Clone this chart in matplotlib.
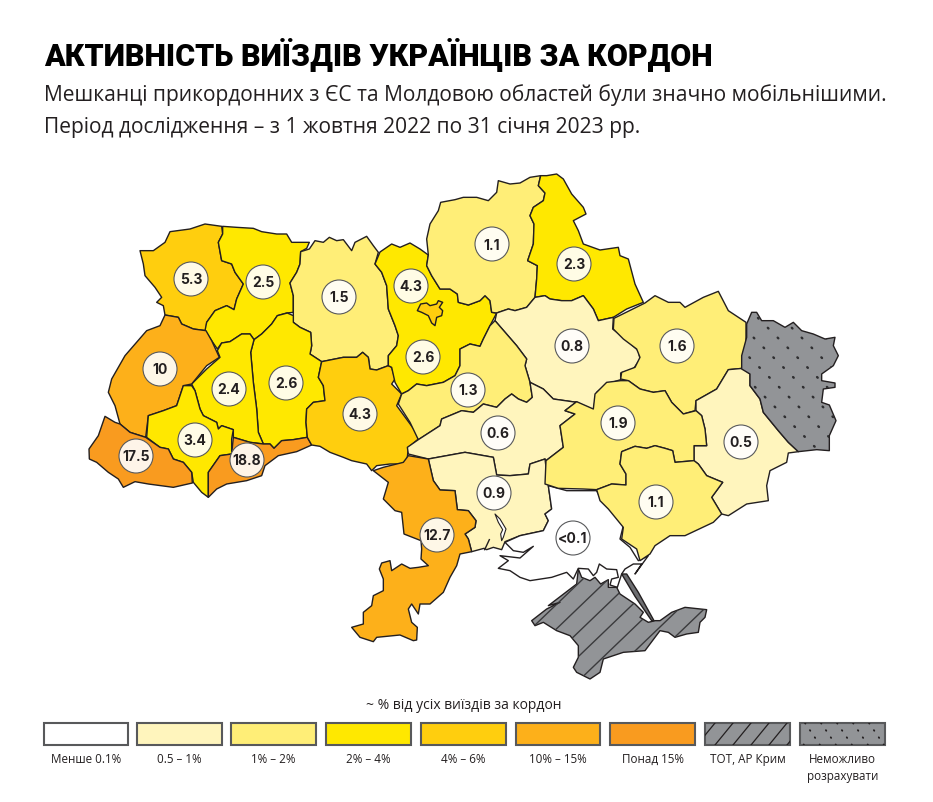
#!/usr/bin/env python3
"""Активність виїздів українців за кордон: choropleth of oblasts, traced outlines."""

import numpy as np
import matplotlib
matplotlib.use('Agg')
import matplotlib.pyplot as plt
from matplotlib.patches import Polygon, Circle, Rectangle


def at(x0, y0, pts):
    return [(x0 + x / 3, y0 + y / 3) for x, y in pts]


# ── Data ──────────────────────────────────────────────────────────
TITLE = 'АКТИВНІСТЬ ВИЇЗДІВ УКРАЇНЦІВ ЗА КОРДОН'
SUBTITLE = ['Мешканці прикордонних з ЄС та Молдовою областей були значно мобільнішими.',
            'Період дослідження – з 1 жовтня 2022 по 31 січня 2023 рр.']
LEGEND_TITLE = '~ % від усіх виїздів за кордон'
LEGEND_LABELS = ['Менше 0.1%', '0.5 – 1%', '1% – 2%', '2% – 4%', '4% – 6%',
                 '10% – 15%', 'Понад 15%', 'ТОТ, АР Крим', 'Неможливо\nрозрахувати']
CLASS_COLORS = ['#FFFFFF', '#FFF5BD', '#FFEE77', '#FFE800', '#FFCE0E',
                '#FDB01A', '#F99B1F', '#929497', '#929497']

VOLYN = at(80, 210, [(270,68),(330,60),(375,45),(425,52),(428,75),(415,100),(425,155),(455,165),(465,190),(490,225),(470,270),(462,302),(440,290),(405,305),(380,340),(378,365),(340,360),(305,345),(295,325),(255,318),(250,290),(230,280),(245,265),(225,235),(195,200),(190,165),(180,125),(220,125),(255,100)])
RIVNE = at(80, 210, [(428,52),(470,55),(520,58),(545,68),(590,75),(620,75),(635,100),(688,100),(680,118),(662,128),(660,165),(650,190),(630,222),(640,260),(640,310),(620,312),(592,320),(575,345),(545,375),(522,392),(510,375),(485,375),(450,398),(425,402),(412,420),(395,395),(375,365),(380,340),(405,305),(440,290),(462,302),(470,270),(490,225),(465,190),(455,165),(425,155),(415,100),(428,75)])
ZHYTOMYR = at(80, 210, [(662,128),(688,120),(705,95),(730,100),(748,85),(770,95),(790,92),(815,125),(825,100),(860,82),(880,110),(895,130),(885,165),(905,190),(920,230),(925,300),(945,350),(955,380),(950,410),(925,440),(925,470),(890,483),(870,480),(865,445),(848,430),(830,445),(790,445),(725,458),(690,435),(695,410),(692,370),(660,355),(640,340),(640,260),(630,222),(650,190),(660,165)])
KHMELNYTSKYI = at(80, 210, [(622,312),(640,320),(640,340),(660,355),(692,370),(695,410),(690,435),(725,458),(715,505),(730,530),(735,575),(700,580),(680,600),(678,640),(682,685),(640,692),(605,695),(582,718),(570,705),(550,705),(535,670),(530,600),(520,520),(512,430),(522,392),(545,375),(575,345),(592,320)])
TERNOPIL = at(80, 210, [(522,392),(512,430),(520,520),(530,600),(535,670),(550,705),(510,700),(460,685),(460,662),(425,650),(415,660),(410,640),(370,620),(360,600),(345,545),(335,525),(380,480),(420,445),(412,425),(425,402),(450,398),(485,375),(510,375)])
LVIV = at(80, 210, [(255,318),(295,325),(305,345),(340,360),(378,365),(395,395),(418,445),(380,470),(335,525),(310,530),(290,590),(250,605),(205,620),(197,685),(150,670),(120,645),(105,590),(85,550),(95,510),(135,440),(200,365),(240,350)])
FRANKIVSK = at(80, 210, [(310,530),(335,530),(345,545),(360,600),(370,620),(410,640),(415,660),(425,650),(460,662),(455,690),(455,735),(420,740),(385,790),(385,865),(365,850),(340,820),(335,790),(310,760),(280,750),(265,720),(240,715),(200,685),(205,620),(250,605),(290,590),(300,560)])
ZAKARPATTIA = at(80, 210, [(75,622),(105,640),(120,645),(150,670),(197,685),(240,715),(265,720),(280,750),(310,760),(335,790),(337,822),(280,835),(205,825),(165,818),(130,835),(115,810),(85,790),(50,760),(28,750),(27,720),(55,680)])
CHERNIVTSI = at(80, 210, [(460,685),(510,700),(550,705),(570,705),(582,718),(605,695),(640,692),(682,685),(695,708),(650,728),(595,740),(555,770),(545,800),(500,815),(440,825),(410,840),(385,865),(385,790),(420,740),(455,735)])
VINNYTSIA = at(80, 210, [(725,458),(790,445),(830,445),(848,430),(865,445),(870,480),(890,483),(925,470),(935,475),(945,510),(935,525),(965,555),(950,590),(1005,665),(1015,690),(985,715),(980,765),(930,765),(890,770),(875,785),(860,765),(815,755),(790,745),(750,730),(720,712),(695,708),(682,685),(678,640),(680,600),(700,580),(735,575),(730,530),(715,505)])
KYIV_OBL = at(380, 170, [(0,249),(35,225),(60,235),(90,222),(120,240),(145,258),(140,290),(155,320),(180,360),(210,360),(232,375),(235,400),(265,408),(300,395),(315,380),(330,395),(335,430),(350,432),(330,470),(310,510),(300,532),(270,525),(240,540),(240,590),(225,620),(190,640),(140,650),(110,645),(85,665),(65,675),(45,640),(35,595),(25,590),(25,560),(50,530),(55,500),(45,470),(25,420),(20,350),(5,310),(-15,285)])
CHERNIHIV = at(380, 170, [(182,100),(225,92),(250,85),(290,85),(325,95),(350,70),(355,35),(390,45),(420,42),(450,25),(482,20),(475,50),(495,72),(490,95),(460,115),(450,140),(462,165),(460,225),(443,275),(472,290),(470,330),(465,385),(440,415),(405,425),(385,420),(350,432),(335,430),(330,395),(315,380),(300,395),(265,408),(235,400),(232,375),(210,360),(180,360),(155,320),(140,290),(145,258),(140,210),(150,165),(175,125)])
SUMY = at(380, 170, [(482,20),(500,20),(530,15),(550,30),(575,75),(610,115),(618,135),(580,155),(595,185),(610,225),(660,243),(715,235),(720,260),(745,270),(765,345),(790,400),(740,420),(700,445),(655,455),(640,420),(610,380),(575,395),(545,395),(510,390),(495,380),(465,385),(470,330),(472,290),(443,275),(460,225),(462,165),(450,140),(460,115),(490,95),(495,72),(475,50)])
POLTAVA = at(380, 170, [(350,432),(385,420),(405,425),(440,415),(465,385),(495,380),(510,390),(545,395),(575,395),(610,380),(640,420),(655,455),(700,445),(698,480),(730,505),(775,545),(780,570),(760,600),(722,612),(722,632),(680,645),(650,670),(640,722),(590,700),(520,690),(490,660),(450,640),(435,590),(440,570),(410,530),(345,455)])
CHERKASY = at(380, 170, [(345,455),(410,530),(440,570),(435,590),(450,640),(457,685),(440,700),(415,690),(395,675),(375,690),(350,715),(310,705),(280,730),(245,725),(185,750),(180,770),(115,812),(90,760),(55,705),(65,675),(85,665),(110,645),(140,650),(190,640),(225,620),(240,590),(240,540),(270,525),(300,532),(310,510),(330,470)])
KIROVOHRAD = (at(380, 170, [(450,640),(490,660),(520,690),(590,700)])
              + at(540, 280, [(110,368),(75,395),(105,405),(60,440),(70,505),(18,545)])
              + at(340, 440, [(615,60),(570,75),(565,105),(510,110),(470,108),(460,55),(375,40),(265,60),(205,45),(202,25)])
              + at(380, 170, [(115,812),(180,770),(185,750),(245,725),(280,730),(310,705),(350,715),(375,690),(395,675),(415,690),(440,700),(457,685)]))
MYKOLAIV = at(340, 440, [(265,60),(375,40),(460,55),(470,108),(510,110),(565,105),(570,75),(615,60),(625,140),(635,210),(615,225),(625,245),(610,275),(540,290),(495,308),(485,332),(460,325),(440,332),(432,328),(395,338),(385,300),(375,285),(405,265),(408,245),(385,215),(352,212),(345,155),(300,153),(280,125)])
ODESA = at(340, 440, [(100,95),(130,85),(190,70),(205,50),(265,60),(280,125),(300,153),(345,155),(352,212),(385,215),(408,245),(405,265),(375,285),(385,300),(395,338),(360,345),(350,380),(330,415),(310,460),(270,495),(240,495),(235,525),(215,495),(205,510),(215,550),(232,565),(230,603),(220,605),(180,588),(110,595),(100,608),(60,595),(35,565),(70,555),(70,520),(95,500),(100,470),(130,455),(130,420),(118,390),(125,372),(150,365),(155,395),(185,375),(210,388),(235,385),(265,380),(243,360),(245,330),(243,305),(192,285),(185,220),(165,215),(130,180),(145,130)])
KHERSON = (at(340, 440, [(625,140),(680,155),(770,155),(785,185),(815,215),(850,260),(840,300),(870,325),(895,365),(925,350)])
           + at(480, 510, [(465,195),(485,165),(460,165),(435,180),(425,195),(420,210),(412,235),(390,228),(395,210),(415,205),(410,182),(380,180),(358,165),(350,190),(340,200),(325,180),(295,178),(280,210),(260,190),(215,205),(150,215),(120,205),(90,185),(55,178),(85,155),(60,140),(120,147),(160,112),(130,130),(100,125),(75,100)])
           + at(340, 440, [(540,290),(610,275),(625,245),(615,225),(635,210)]))
CRIMEA = (at(340, 440, [(575,545),(620,510),(660,490)])
          + at(480, 510, [(205,290),(290,225),(295,180),(305,205),(330,215),(345,205),(362,225),(385,212),(385,235),(410,235),(420,255),(465,285),(490,310),(480,325),(505,340),(525,335)])
          + at(340, 440, [(960,545),(995,520),(1035,505),(1100,512),(1095,535),(1080,550),(1075,580),(1040,585),(1005,595),(985,580),(960,575),(915,635),(850,640),(790,660),(780,700),(750,720),(710,700),(700,685),(715,655),(715,620),(690,590),(650,575),(610,550),(585,560)]))
ARABAT = at(480, 510, [(425,195),(440,195),(475,250),(522,335),(515,335),(465,262)])
LIMAN = at(480, 510, [(45,15),(60,30),(78,60),(70,85),(65,95),(62,75),(68,62),(55,40)])
BAY_INLET = at(480, 510, [(28,92),(14,122)])
KHARKIV = at(540, 280, [(222,118),(315,72),(345,50),(385,70),(420,70),(435,85),(490,55),(535,37),(565,95),(618,130),(618,190),(605,240),(608,268),(565,272),(530,330),(468,365),(465,395),(430,405),(395,370),(375,335),(340,340),(300,330),(265,305),(242,300),(245,280),(285,265),(300,235),(290,210),(250,180),(220,150)])
LUHANSK = at(540, 280, [(635,100),(650,100),(665,125),(700,125),(735,145),(760,130),(785,155),(820,165),(855,180),(885,175),(880,200),(895,230),(880,260),(845,285),(845,305),(885,312),(885,325),(850,330),(845,370),(868,378),(888,425),(868,470),(868,515),(830,512),(775,518),(745,490),(715,455),(670,400),(660,360),(630,320),(630,285),(605,270),(605,230),(620,175),(620,135)])
DONETSK = at(540, 280, [(565,272),(608,268),(630,285),(630,320),(660,360),(670,400),(715,455),(745,490),(775,518),(745,522),(740,550),(690,575),(680,620),(685,665),(620,675),(565,710),(545,705),(515,655),(548,610),(500,590),(475,555),(462,545),(462,500),(500,500),(495,450),(485,410),(468,395),(468,365),(530,330)])
DNIPRO = at(540, 280, [(242,305),(265,305),(300,330),(340,340),(375,335),(395,370),(430,405),(468,395),(485,410),(495,450),(500,500),(462,500),(462,545),(405,550),(398,515),(375,508),(345,500),(320,508),(285,502),(245,518),(240,555),(258,585),(258,618),(215,615),(170,632),(130,630),(55,628),(15,615),(18,545),(70,505),(60,440),(105,405),(75,395),(110,368),(160,390),(165,345),(200,310)])
ZAPORIZHZHIA = at(540, 280, [(245,518),(285,502),(320,508),(345,500),(375,508),(398,515),(405,550),(462,545),(475,555),(500,590),(548,610),(515,655),(545,705),(520,730),(435,770),(390,770),(345,800),(330,825),(300,845),(290,810),(245,780),(250,745),(205,690),(180,665),(170,632),(215,615),(258,618),(258,585),(240,555)])
KYIV_CITY = at(380, 170, [(112,425),(122,405),(140,402),(150,410),(170,405),(175,395),(188,400),(178,415),(188,425),(185,440),(170,445),(165,470),(155,462),(145,440),(125,430)])

# (outline, class index into CLASS_COLORS); later ones cover earlier shared borders
REGION_SHAPES = [VOLYN, RIVNE, ZHYTOMYR, KHMELNYTSKYI, TERNOPIL, LVIV, FRANKIVSK,
                 ZAKARPATTIA, CHERNIVTSI, VINNYTSIA, KYIV_OBL, CHERNIHIV, SUMY, POLTAVA,
                 CHERKASY, KIROVOHRAD, MYKOLAIV, ODESA, KHERSON, KHARKIV, DONETSK,
                 DNIPRO, ZAPORIZHZHIA, KYIV_CITY]
REGION_CLASSES = [4, 3, 2, 3, 3, 5, 3, 6, 6, 4, 3, 2, 3, 1, 2, 1, 1, 5, 0, 2, 1, 2, 2, 4]

VALUE_LABELS = ['5.3', '2.5', '1.5', '4.3', '2.6', '1.1', '2.3', '10', '2.4', '2.6', '4.3', '3.4',
                '17.5', '18.8', '0.8', '1.6', '1.3', '0.6', '1.9', '0.5', '1.1', '0.9', '12.7', '<0.1']
VALUE_X = [191, 263, 339, 411, 423, 492, 574, 160, 229, 286, 360, 195,
           136, 247, 572, 677, 468, 498, 618, 741, 656, 494, 437, 573]
VALUE_Y = [280, 283, 298, 287, 358, 245, 265, 370, 390, 384, 415, 441,
           457, 461, 347, 347, 391, 434, 424, 443, 503, 494, 536, 539]

LEGEND_X0 = [44, 137, 231, 326, 421, 516, 610, 705, 800]
LEGEND_X1 = [128, 222, 316, 411, 506, 600, 695, 790, 885]

INK = '#231F20'

# ── Figure ────────────────────────────────────────────────────────
fig = plt.figure(figsize=(9.33, 8.03), dpi=100)
ax = fig.add_axes([0, 0, 1, 1])
ax.set_xlim(0, 933)
ax.set_ylim(803, 0)
ax.axis('off')


def add_shape(points, color, edge=INK, lw=1.0, z=2):
    patch = Polygon(points, closed=True, facecolor=color, edgecolor=edge,
                    linewidth=lw, joinstyle='round', zorder=z)
    ax.add_patch(patch)
    return patch


def clipped_lines(patch, starts, y0, y1, dx, z, **style):
    # parallel lines from (x, y0) to (x + dx, y1), clipped: a hatch with our own spacing
    for x in starts:
        line, = ax.plot([x, x + dx], [y0, y1], zorder=z, **style)
        line.set_clip_path(patch)


for shape, cls in zip(REGION_SHAPES, REGION_CLASSES):
    add_shape(shape, CLASS_COLORS[cls])
add_shape(LIMAN, '#FFFFFF', z=3, lw=0.8)
ax.plot(*zip(*BAY_INLET), color=INK, lw=1.0, zorder=3)

# ── Crimea, hatched ───────────────────────────────────────────────
crimea = add_shape(CRIMEA, CLASS_COLORS[7], z=3)
add_shape(ARABAT, '#6D6E71', z=3, lw=1.0)
clipped_lines(crimea, np.arange(443, 760, 25.4), 690, 570, 125, 4, color='#3A3A3C', lw=1.0)

# ── Luhansk, dotted ───────────────────────────────────────────────
luhansk = add_shape(LUHANSK, CLASS_COLORS[8], z=3)
clipped_lines(luhansk, np.arange(617, 860, 24), 250, 490, 240, 4, color='#2E2E30', lw=1.7,
              linestyle=(0, (0.4, 5.5)), dash_capstyle='round')

# ── Value bubbles ─────────────────────────────────────────────────
for x, y, label in zip(VALUE_X, VALUE_Y, VALUE_LABELS):
    ax.add_patch(Circle((x, y), 17, facecolor='#FFFFFF', alpha=0.9, edgecolor='none', zorder=5))
    ax.add_patch(Circle((x, y), 17, facecolor='none', edgecolor='#58595B', linewidth=0.8, zorder=5))
    ax.text(x, y + 0.5, label, ha='center', va='center', fontsize=10, fontweight='bold',
            family='Inter', color=INK, zorder=6)

# ── Titles ────────────────────────────────────────────────────────
ax.text(44, 54, TITLE, ha='left', va='center', fontsize=22, fontweight='black',
        family='Roboto', color='#000000')
ax.text(44, 95, SUBTITLE[0], ha='left', va='center', fontsize=15.15, family='Open Sans', color=INK)
ax.text(44, 127, SUBTITLE[1], ha='left', va='center', fontsize=15.15, family='Open Sans', color=INK)

# ── Legend ────────────────────────────────────────────────────────
ax.text(464, 706, LEGEND_TITLE, ha='center', va='center', fontsize=10, family='Open Sans', color=INK)
for i, (x0, x1, label) in enumerate(zip(LEGEND_X0, LEGEND_X1, LEGEND_LABELS)):
    box = Rectangle((x0, 724), x1 - x0, 22, facecolor=CLASS_COLORS[i], edgecolor='#58595B',
                    linewidth=1.5, zorder=2)
    ax.add_patch(box)
    if i == 7:
        clipped_lines(box, np.arange(x0 - 26, x1, 18), 746, 724, 18, 3, color=INK, lw=0.9)
    if i == 8:
        clipped_lines(box, np.arange(x0 - 27, x1, 16), 724, 746, 15, 3, color=INK, lw=1.3,
                      linestyle=(0, (0.4, 4.4)), dash_capstyle='round')
    ax.text((x0 + x1) / 2, 753, label, ha='center', va='top', fontsize=8.4,
            family='Open Sans', color=INK, linespacing=1.45)

fig.savefig('out.png', dpi=100)
